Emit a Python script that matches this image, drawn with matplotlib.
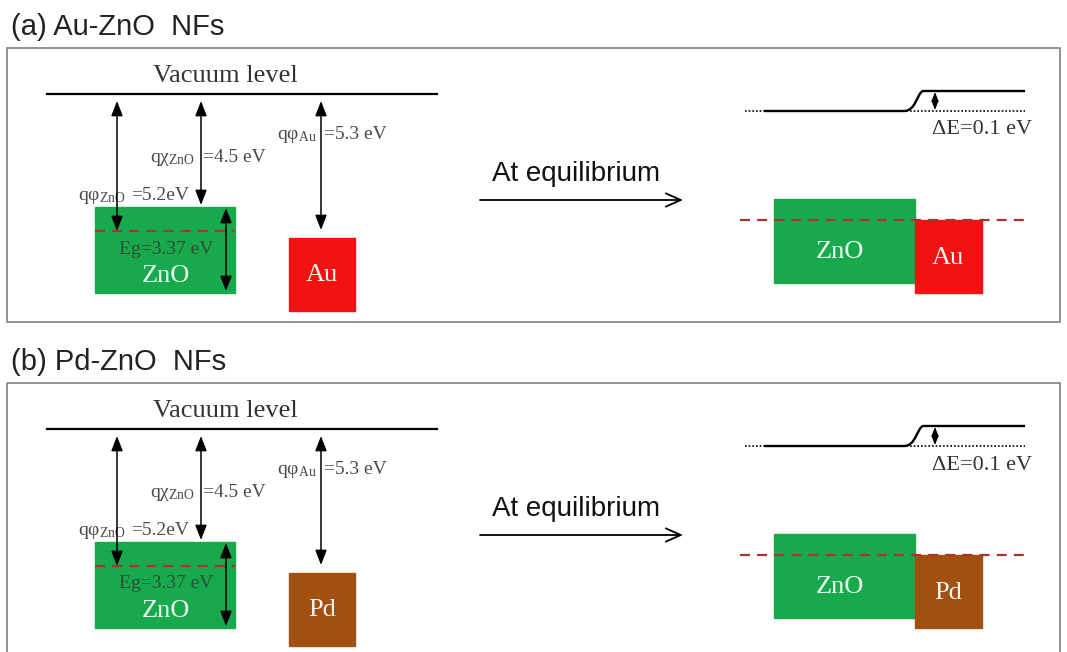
import matplotlib
matplotlib.use("Agg")
import matplotlib.pyplot as plt
from matplotlib.patches import Rectangle, PathPatch
from matplotlib.path import Path

plt.rcParams['font.family'] = ['Liberation Serif', 'DejaVu Serif']
plt.rcParams['mathtext.fontset'] = 'custom'
plt.rcParams['mathtext.rm'] = 'Liberation Serif'
plt.rcParams['mathtext.it'] = 'Liberation Serif:italic'

# panel data
panel_titles = ["(a) Au-ZnO  NFs", "(b) Pd-ZnO  NFs"]
metals = ["Au", "Pd"]
metal_colors = ["#f21212", "#a24f12"]
panel_offsets = [0, 335]          # vertical shift of panel (b)

# energies (eV)
phi_zno = 5.2
chi_zno = 4.5
phi_metal = 5.3
eg_zno = 3.37
delta_e = 0.1

GREEN = "#17a94c"
FERMI = "#a8342e"
GRAY_TXT = "#4a4a4a"
SANS = ['Liberation Sans', 'DejaVu Sans']

fig = plt.figure(figsize=(10.67, 6.52), dpi=100)
ax = fig.add_axes([0, 0, 1, 1])
ax.set_xlim(0, 1067)
ax.set_ylim(652, 0)
ax.axis('off')


def darrow(x, y0, y1, scale=10, lw=1.1):
    ax.annotate('', xy=(x, y1), xytext=(x, y0),
                arrowprops=dict(arrowstyle='<|-|>,head_length=0.9,head_width=0.35',
                                color='black', lw=lw, mutation_scale=scale,
                                shrinkA=0, shrinkB=0), zorder=5)


def sub(sym, s):
    # upright greek letter with small upright subscript
    return "q" + sym + r"$_{\mathregular{" + s + "}}$"


for title, metal, mcol, dy in zip(panel_titles, metals, metal_colors, panel_offsets):
    # title and frame
    ax.text(11, 27 + dy, title, fontsize=21, family=SANS,
            color='#222222', va='center', ha='left')
    ax.add_patch(Rectangle((7, 48 + dy), 1053, 274 if dy == 0 else 300,
                           fill=False, ec='#8a8a8a', lw=1.3))

    # ---- left: before contact ----
    vac = 94 + dy
    ax.plot([47, 437], [vac, vac], color='black', lw=1.6)
    ax.text(225, 76 + dy, "Vacuum level", fontsize=19, ha='center', va='center',
            color='#333333')

    # ZnO band box
    cb, vb = 207 + dy, 293 + dy
    ef = 231 + dy
    ax.add_patch(Rectangle((95, cb), 140, vb - cb, color=GREEN, zorder=2))
    ax.plot([95, 235], [ef, ef], color=FERMI, lw=1.6, ls=(0, (4.5, 3.2)), zorder=3)
    ax.text(166, 249 + dy, f"Eg={eg_zno} eV", fontsize=14, ha='center', va='center',
            color='#2f4d35', zorder=4)
    ax.text(166, 276 + dy, "ZnO", fontsize=19, ha='center', va='center',
            color='#e8fff0', zorder=4)
    darrow(226, cb + 1, vb - 2)

    # metal box
    ax.add_patch(Rectangle((289, 238 + dy), 66, 73, color=mcol, zorder=2))
    ax.text(322, 275 + dy, metal, fontsize=19, ha='center', va='center',
            color='#fff4ee', zorder=4)

    # work function / affinity arrows
    darrow(117, vac + 7, ef)
    darrow(201, vac + 7, cb - 2)
    darrow(321, vac + 7, 230 + dy)

    ax.text(78, 200 + dy, sub("φ", "ZnO"), fontsize=14, ha='left', va='baseline',
            color=GRAY_TXT)
    ax.text(131, 200 + dy, f"={phi_zno}eV", fontsize=14, ha='left', va='baseline',
            color=GRAY_TXT)
    ax.text(150, 162 + dy, sub("χ", "ZnO"), fontsize=14,
            ha='left', va='baseline', color=GRAY_TXT)
    ax.text(203, 162 + dy, f"={chi_zno} eV", fontsize=14, ha='left', va='baseline',
            color=GRAY_TXT)
    ax.text(277, 139 + dy, sub("φ", "Au"), fontsize=14,
            ha='left', va='baseline', color=GRAY_TXT)
    ax.text(324, 139 + dy, f"={phi_metal} eV", fontsize=14, ha='left', va='baseline',
            color=GRAY_TXT)

    # ---- middle arrow ----
    ax.text(576, 174 + dy, "At equilibrium", fontsize=20, ha='center', va='center',
            family=SANS, color='#111111')
    ax.annotate('', xy=(683, 200 + dy), xytext=(480, 200 + dy),
                arrowprops=dict(arrowstyle='->,head_length=0.9,head_width=0.4',
                                color='black', lw=1.3, mutation_scale=12,
                                shrinkA=0, shrinkB=0))

    # ---- right: at equilibrium ----
    lo, hi = 111 + dy, 91 + dy
    ax.plot([745, 1025], [lo, lo], color='black', lw=1.2, ls=(0, (1, 1.2)))
    verts = [(764, lo), (904, lo), (916, lo), (917, hi + 2), (923, hi),
             (1025, hi)]
    codes = [Path.MOVETO, Path.LINETO, Path.CURVE4, Path.CURVE4, Path.CURVE4,
             Path.LINETO]
    ax.add_patch(PathPatch(Path(verts, codes), fill=False, ec='black', lw=1.7))
    darrow(935, hi + 1, lo - 1, scale=6, lw=0.9)
    ax.text(982, 130 + dy, f"ΔE={delta_e} eV", fontsize=16, ha='center', va='center',
            color='#333333')

    efr = 220 + dy
    ax.add_patch(Rectangle((774, 199 + dy), 141, 84, color=GREEN, zorder=2))
    ax.add_patch(Rectangle((915, efr), 67, 73, color=mcol, zorder=2))
    ax.plot([740, 1027], [efr, efr], color=FERMI, lw=1.6, ls=(0, (4.5, 3.2)), zorder=3)
    ax.text(840, 252 + dy, "ZnO", fontsize=19, ha='center', va='center',
            color='#e8fff0', zorder=4)
    ax.text(948, 258 + dy, metal, fontsize=19, ha='center', va='center',
            color='#fff4ee', zorder=4)

fig.savefig("out.png", dpi=100)
